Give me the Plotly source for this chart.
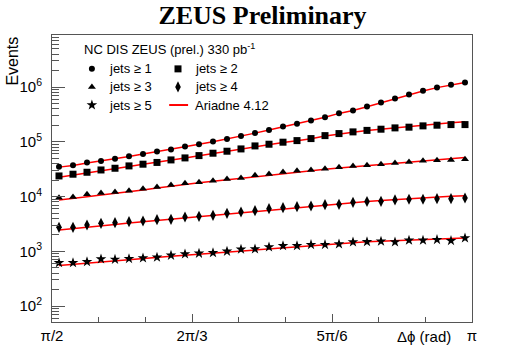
import numpy as np
import plotly.graph_objects as go

# bin centres in degrees (30 bins of 3 deg between pi/2 and pi)
dphi_deg = [91.5, 94.5, 97.5, 100.5, 103.5, 106.5, 109.5, 112.5, 115.5, 118.5,
            121.5, 124.5, 127.5, 130.5, 133.5, 136.5, 139.5, 142.5, 145.5, 148.5,
            151.5, 154.5, 157.5, 160.5, 163.5, 166.5, 169.5, 172.5, 175.5, 178.5]

jets1 = [35200, 37300, 41700, 44700, 49300, 54600, 60100, 66200, 72000, 81700,
         90300, 100900, 113000, 128200, 145500, 165000, 189800, 212500, 244000, 281800,
         333500, 371900, 440100, 521000, 616600, 729500, 853000, 980000, 1096000, 1208000]
jets2 = [23800, 25600, 27800, 30600, 32900, 36300, 39000, 42000, 46700, 50800,
         56000, 61900, 67300, 74100, 84100, 90300, 98400, 105200, 114500, 129700,
         141300, 151700, 161600, 169900, 179500, 184900, 195400, 201000, 206200, 206200]
jets3 = [9550, 9840, 11000, 11640, 12140, 12830, 13940, 14990, 16290, 17500,
         18250, 19530, 20990, 21880, 24500, 25880, 28180, 29740, 30630, 32370,
         34330, 36250, 37500, 38990, 41140, 42930, 45310, 46110, 46720, 48080]
jets4 = [2750, 2750, 3027, 3251, 3334, 3476, 3581, 3785, 3847, 4237,
         4365, 4550, 4955, 5229, 5523, 6010, 6266, 6534, 6731, 7112,
         7228, 7866, 8130, 8200, 8670, 8930, 8930, 9160, 9160, 9420]
jets5 = [619, 619, 645, 723, 714, 733, 754, 780, 845, 892,
         919, 943, 1000, 1088, 1102, 1199, 1266, 1266, 1321, 1321,
         1359, 1479, 1493, 1524, 1479, 1589, 1589, 1630, 1563, 1750]

# Ariadne 4.12 predictions
mc1 = [34500, 37000, 41000, 44500, 49000, 54000, 60000, 66000, 72500, 81000,
       90000, 100000, 112000, 127000, 144000, 164000, 187000, 212000, 243000, 280000,
       330000, 372000, 435000, 515000, 610000, 720000, 845000, 975000, 1090000, 1210000]
mc2 = [22500, 24500, 27000, 29800, 32500, 35500, 38800, 42000, 46000, 50500,
       55500, 61000, 67000, 74000, 82500, 89500, 97500, 105000, 114000, 128000,
       140000, 150000, 160000, 170000, 180000, 190000, 202000, 212000, 222000, 232000]
mc3 = [8700, 9200, 9900, 10700, 11400, 12200, 13200, 14300, 15500, 16700,
       17800, 19000, 20300, 21700, 23200, 24800, 26600, 28300, 29900, 31500,
       33200, 34900, 36600, 38500, 40500, 42500, 44600, 46800, 49000, 51500]
mc4 = [2450, 2580, 2750, 2920, 3100, 3280, 3460, 3650, 3850, 4060,
       4280, 4510, 4750, 5000, 5300, 5650, 6000, 6350, 6700, 7050,
       7400, 7750, 8100, 8450, 8800, 9150, 9500, 9800, 10100, 10400]
mc5 = [550, 575, 605, 640, 675, 705, 735, 770, 810, 850,
       890, 930, 975, 1020, 1070, 1120, 1175, 1230, 1290, 1340,
       1390, 1440, 1490, 1530, 1570, 1610, 1650, 1690, 1720, 1750]

x_tickvals = [np.pi / 2, 2 * np.pi / 3, 5 * np.pi / 6, np.pi]
x_ticktext = ["π/2", "2π/3", "5π/6", "π"]
y_tickvals = [1e2, 1e3, 1e4, 1e5, 1e6]
y_ticktext = ["10<sup>2</sup>", "10<sup>3</sup>", "10<sup>4</sup>", "10<sup>5</sup>", "10<sup>6</sup>"]

labels = ["jets ≥ 1", "jets ≥ 2", "jets ≥ 3", "jets ≥ 4", "jets ≥ 5"]
symbols = ["circle", "square", "triangle-up", "diamond-tall", "star"]
sizes = [6, 7, 7, 8, 8]

FONT = "Liberation Sans, Arial, sans-serif"
x = np.radians(dphi_deg)

fig = go.Figure()

for mc in [mc1, mc2, mc3, mc4, mc5]:
    fig.add_trace(go.Scatter(x=x, y=mc, mode="lines",
                             line=dict(color="#ff0000", width=1.5),
                             showlegend=False, hoverinfo="skip"))

for data, sym, sz, lab in zip([jets1, jets2, jets3, jets4, jets5], symbols, sizes, labels):
    fig.add_trace(go.Scatter(x=x, y=data, mode="markers", name=lab,
                             marker=dict(symbol=sym, size=sz, color="black", line=dict(width=0)),
                             showlegend=False))

# hand-made legend on an overlay axis (0..1 over the frame)
leg_x = [0.095, 0.30, 0.095, 0.30, 0.095]
leg_y = [0.882, 0.882, 0.819, 0.819, 0.756]
for lx, ly, sym, sz, lab in zip(leg_x, leg_y, symbols, sizes, labels):
    fig.add_trace(go.Scatter(x=[lx], y=[ly], xaxis="x2", yaxis="y2", mode="markers",
                             marker=dict(symbol=sym, size=sz, color="black", line=dict(width=0)),
                             showlegend=False, hoverinfo="skip"))
    fig.add_annotation(x=lx + 0.036, y=ly, xref="paper", yref="paper", text=lab,
                       showarrow=False, xanchor="left", yanchor="middle",
                       font=dict(family=FONT, size=13, color="black"))
fig.add_trace(go.Scatter(x=[0.279, 0.324], y=[0.756, 0.756], xaxis="x2", yaxis="y2", mode="lines",
                         line=dict(color="#ff0000", width=2), showlegend=False, hoverinfo="skip"))
fig.add_annotation(x=0.336, y=0.756, xref="paper", yref="paper", text="Ariadne 4.12",
                   showarrow=False, xanchor="left", yanchor="middle",
                   font=dict(family=FONT, size=13, color="black"))
fig.add_annotation(x=0.071, y=0.951, xref="paper", yref="paper",
                   text="NC DIS ZEUS (prel.) 330 pb<sup>-1</sup>",
                   showarrow=False, xanchor="left", yanchor="middle",
                   font=dict(family=FONT, size=13, color="black"))

fig.add_annotation(x=-0.095, y=1.0, xref="paper", yref="paper", text="Events",
                   textangle=-90, showarrow=False, xanchor="center", yanchor="top",
                   font=dict(family=FONT, size=16, color="black"))
fig.add_annotation(x=0.955, y=-0.052, xref="paper", yref="paper", text="Δϕ (rad)",
                   showarrow=False, xanchor="right", yanchor="middle",
                   font=dict(family=FONT, size=15, color="black"))

fig.update_layout(
    width=525, height=358,
    margin=dict(l=52, r=53, t=35, b=36),
    paper_bgcolor="white", plot_bgcolor="white",
    title=dict(text="<b>ZEUS Preliminary</b>", x=0.5, xanchor="center", y=0.958, yanchor="middle",
               font=dict(family="Liberation Serif, Times New Roman, serif", size=26, color="black")),
    xaxis=dict(range=[np.pi / 2, np.pi], tickvals=x_tickvals, ticktext=x_ticktext,
               ticks="inside", ticklen=8, tickcolor="#555", showgrid=False, zeroline=False,
               showline=True, linecolor="#555", linewidth=1, mirror=True, automargin=False,
               tickfont=dict(family=FONT, size=15, color="black"),
               minor=dict(tickvals=[np.pi * k / 18 for k in range(10, 18)], ticks="inside",
                          ticklen=5, tickcolor="#555", showgrid=False)),
    yaxis=dict(type="log", range=[1.71, 6.95], tickvals=y_tickvals, ticktext=y_ticktext,
               ticks="inside", ticklen=13, tickcolor="#555", showgrid=False, zeroline=False,
               showline=True, linecolor="#555", linewidth=1, mirror=True, automargin=False,
               ticklabelstandoff=6,
               tickfont=dict(family=FONT, size=15, color="black"),
               minor=dict(tickvals=[m * 10 ** k for k in range(1, 7) for m in range(2, 10)],
                          ticks="inside", ticklen=7, tickcolor="#555", showgrid=False)),
    xaxis2=dict(range=[0, 1], overlaying="x", visible=False),
    yaxis2=dict(range=[0, 1], overlaying="y", visible=False),
)

# drop the browser's default 8px body margin so the figure sits at the page corner
fig.write_html("out.html", config={"displayModeBar": False},
               post_script="document.body.style.margin = '0px';")
